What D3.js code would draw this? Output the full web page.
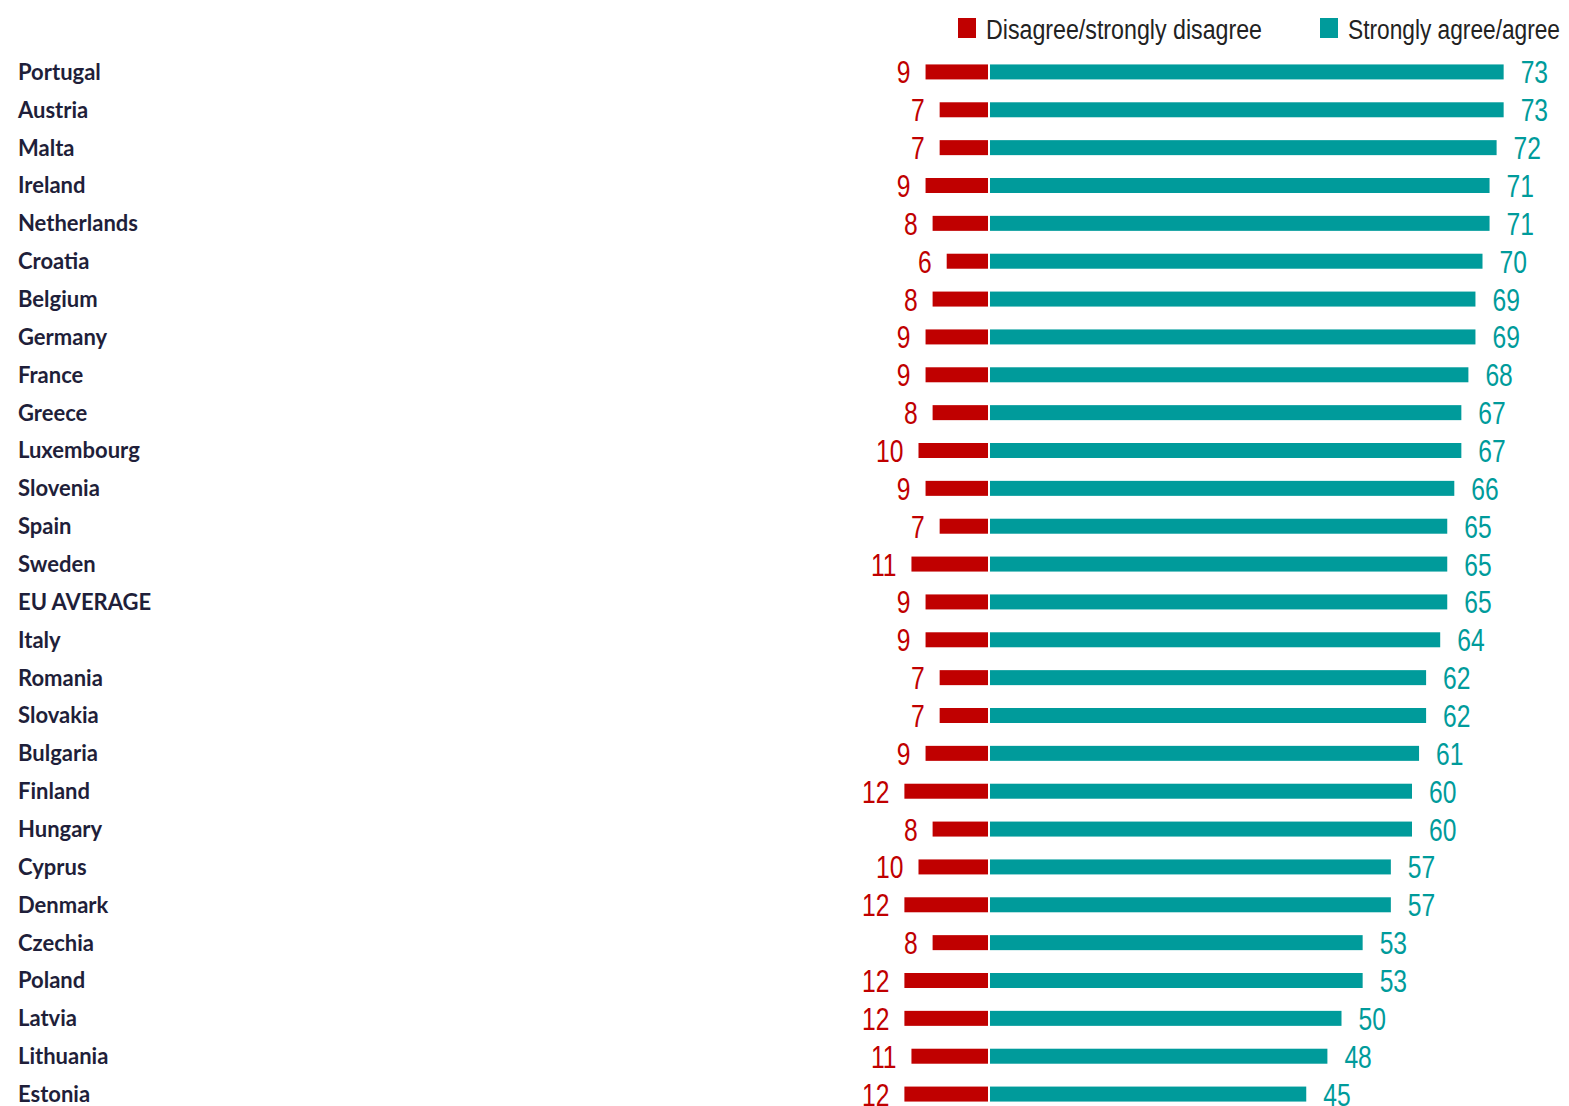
<!DOCTYPE html>
<html>
<head>
<meta charset="utf-8">
<script src="https://cdn.jsdelivr.net/npm/d3@7"></script>
<style>
  body { margin: 0; background: #fff; }
  .country { font-family: Lato, "Open Sans", sans-serif; font-weight: 700; font-size: 22px; fill: #1f1f3a; }
  .val { font-family: "Liberation Sans", Arial, sans-serif; font-size: 32px; }
  .legtext { font-family: "Liberation Sans", Arial, sans-serif; font-size: 27px; fill: #222; }
</style>
</head>
<body>
<div id="chart"></div>
<script>
// Data
var countries = ["Portugal", "Austria", "Malta", "Ireland", "Netherlands", "Croatia", "Belgium",
  "Germany", "France", "Greece", "Luxembourg", "Slovenia", "Spain", "Sweden", "EU AVERAGE",
  "Italy", "Romania", "Slovakia", "Bulgaria", "Finland", "Hungary", "Cyprus", "Denmark",
  "Czechia", "Poland", "Latvia", "Lithuania", "Estonia"];
var disagree = [9, 7, 7, 9, 8, 6, 8, 9, 9, 8, 10, 9, 7, 11, 9, 9, 7, 7, 9, 12, 8, 10, 12, 8, 12, 12, 11, 12];
var agree = [73, 73, 72, 71, 71, 70, 69, 69, 68, 67, 67, 66, 65, 65, 65, 64, 62, 62, 61, 60, 60, 57, 57, 53, 53, 50, 48, 45];
var seriesNames = ["Disagree/strongly disagree", "Strongly agree/agree"];
var colors = ["#c00000", "#009b9b"];

var svgWidth = 1569;
var svgHeight = 1106;

var svg = d3.select("#chart")
  .append("svg")
  .attr("width", svgWidth)
  .attr("height", svgHeight);

var rows = countries.map(function(c, i) {
  return { country: c, dis: disagree[i], agr: agree[i] };
});

// one scale, zero in the middle
var zeroX = 989;
var k = 7.05;
var x = d3.scaleLinear()
  .domain([-15, 75])
  .range([zeroX - 15 * k, zeroX + 75 * k]);

var y = d3.scaleBand()
  .domain(countries)
  .range([53, 1113])
  .paddingInner(0.6)
  .paddingOuter(0.3);

var barH = 15;
var cy = d => y(d.country) + y.bandwidth() / 2;

// country labels
svg.selectAll(".country")
  .data(rows)
  .enter()
  .append("text")
  .attr("class", "country")
  .attr("x", 18)
  .attr("y", cy)
  .attr("dy", "0.36em")
  .text(d => d.country);

// disagree bars
svg.selectAll(".dis")
  .data(rows)
  .enter()
  .append("rect")
  .attr("class", "dis")
  .attr("x", d => x(-d.dis))
  .attr("y", d => cy(d) - barH / 2)
  .attr("width", d => x(0) - x(-d.dis) - 1)
  .attr("height", barH)
  .attr("fill", colors[0]);

// agree bars
svg.selectAll(".agr")
  .data(rows)
  .enter()
  .append("rect")
  .attr("class", "agr")
  .attr("x", x(0) + 1)
  .attr("y", d => cy(d) - barH / 2)
  .attr("width", d => x(d.agr) - x(0) - 1)
  .attr("height", barH)
  .attr("fill", colors[1]);

// value labels (squeezed to look like a narrow face)
var squeeze = 0.77;
svg.selectAll(".dislab")
  .data(rows)
  .enter()
  .append("text")
  .attr("class", "val")
  .attr("transform", d => `translate(${x(-d.dis) - 15}, ${cy(d)}) scale(${squeeze}, 1)`)
  .attr("dy", "0.36em")
  .attr("text-anchor", "end")
  .attr("fill", colors[0])
  .text(d => d.dis);

svg.selectAll(".agrlab")
  .data(rows)
  .enter()
  .append("text")
  .attr("class", "val")
  .attr("transform", d => `translate(${x(d.agr) + 17}, ${cy(d)}) scale(${squeeze}, 1)`)
  .attr("dy", "0.36em")
  .attr("fill", colors[1])
  .text(d => d.agr);

// legend
var legX = [958, 1320];
var legW = [276, 212];
var legend = svg.selectAll(".leg")
  .data(seriesNames)
  .enter()
  .append("g")
  .attr("transform", (d, i) => `translate(${legX[i]}, 18)`);

legend.append("rect")
  .attr("width", 18)
  .attr("height", 20)
  .attr("fill", (d, i) => colors[i]);

legend.append("text")
  .attr("class", "legtext")
  .attr("x", 28)
  .attr("y", 11)
  .attr("dy", "0.36em")
  .attr("textLength", (d, i) => legW[i])
  .attr("lengthAdjust", "spacingAndGlyphs")
  .text(d => d);
</script>
</body>
</html>
